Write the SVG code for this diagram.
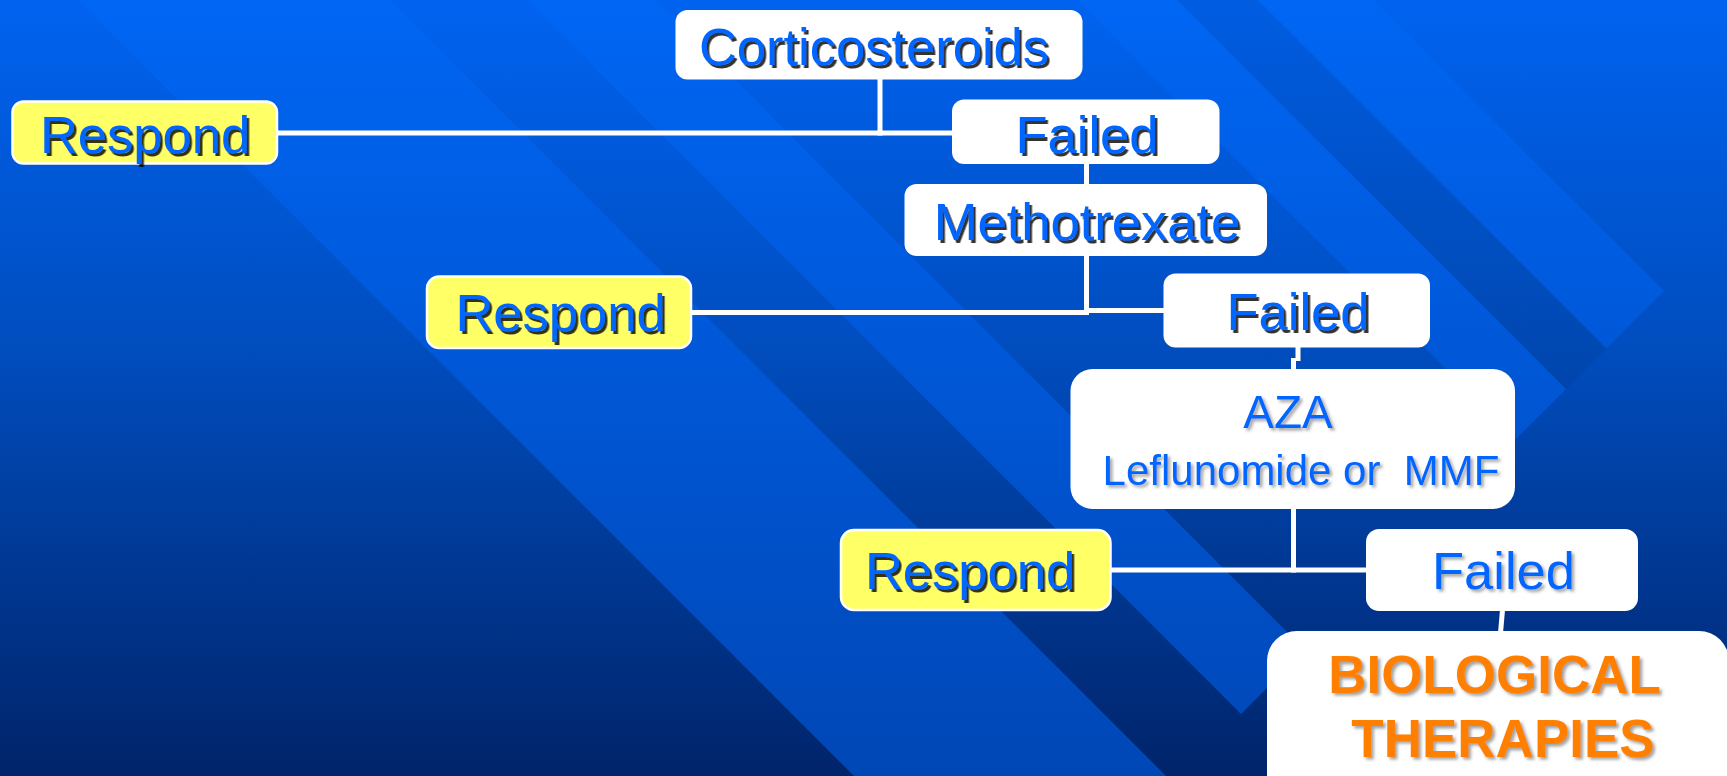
<svg xmlns="http://www.w3.org/2000/svg" width="1727" height="776" viewBox="0 0 1727 776">
  <defs>
    <linearGradient id="bgGrad" gradientUnits="userSpaceOnUse" x1="0" y1="0" x2="0" y2="776">
      <stop offset="0" stop-color="#0063F0"/>
      <stop offset="0.45" stop-color="#004DBE"/>
      <stop offset="1" stop-color="#00246A"/>
    </linearGradient>
    <linearGradient id="bandGrad" gradientUnits="userSpaceOnUse" x1="0" y1="0" x2="0" y2="776">
      <stop offset="0" stop-color="#0066F4"/>
      <stop offset="0.45" stop-color="#0058D8"/>
      <stop offset="1" stop-color="#0047B6"/>
    </linearGradient>
    <filter id="shadowDark" x="-10%" y="-20%" width="130%" height="150%">
      <feDropShadow dx="2.5" dy="3" stdDeviation="0.4" flood-color="#000" flood-opacity="0.8"/>
    </filter>
    <filter id="shadowSoft" x="-10%" y="-20%" width="130%" height="150%">
      <feDropShadow dx="2.5" dy="2.5" stdDeviation="1.5" flood-color="#555" flood-opacity="0.55"/>
    </filter>
    <style>
      .band { fill: url(#bandGrad); }
      .dark { fill: #000; fill-opacity: 0.06; }
      .box { fill: #FFFFFF; }
      .yes { fill: #FFFF66; stroke: #FFFFFF; stroke-width: 2.5; }
      .lbl { font-family: "Liberation Sans", Arial, sans-serif; font-size: 52.5px; fill: #0066FF; text-anchor: middle; }
      .hard { filter: url(#shadowDark); }
      .soft { filter: url(#shadowSoft); }
      .bio { font-family: "Liberation Sans", Arial, sans-serif; font-size: 53px; font-weight: bold; fill: #FF8000; text-anchor: middle; filter: url(#shadowSoft); }
      .wire { stroke: #FFFFFF; stroke-width: 5; fill: none; }
    </style>
  </defs>

  <!-- background with diagonal ribbons -->
  <rect x="0" y="0" width="1727" height="776" fill="url(#bgGrad)"/>
  <g id="ribbons">
    <polygon class="band" points="78,0 390,0 1166,776 854,776"/>
    <polygon class="band" points="527,0 655,0 1305,650 1241,714"/>
    <polygon class="band" points="1077,0 1177,0 1566,389 1516,439"/>
    <polygon class="band" points="1258,0 1373,0 1664,291 1606.5,348.5"/>
    <polygon class="dark" points="1177,0 1258,0 1606.5,348.5 1566,389"/>
  </g>

  <!-- connectors -->
  <g id="connectors">
    <line class="wire" x1="880" y1="79" x2="880" y2="135.5"/>
    <line class="wire" x1="278" y1="133" x2="953" y2="133"/>
    <line class="wire" x1="1086.5" y1="164" x2="1086.5" y2="185"/>
    <line class="wire" x1="1086.5" y1="255" x2="1086.5" y2="315"/>
    <line class="wire" x1="691" y1="312.5" x2="1089" y2="312.5"/>
    <line class="wire" x1="1084" y1="310.5" x2="1165" y2="310.5"/>
    <line class="wire" x1="1298" y1="347" x2="1298" y2="361"/>
    <line class="wire" x1="1293.5" y1="358" x2="1293.5" y2="370"/>
    <line class="wire" x1="1293.5" y1="508" x2="1293.5" y2="572.5"/>
    <line class="wire" x1="1110" y1="570" x2="1367" y2="570"/>
    <line class="wire" x1="1502.5" y1="610" x2="1500.5" y2="633"/>
  </g>

  <g id="corticosteroids">
    <rect class="box" x="675.5" y="10" width="407" height="69.5" rx="12"/>
    <text class="lbl hard" x="874" y="65">Corticosteroids</text>
  </g>

  <g id="respond-1">
    <rect class="yes" x="12.5" y="101.5" width="264.5" height="62" rx="11"/>
    <text class="lbl hard" x="145" y="153">Respond</text>
  </g>

  <g id="failed-1">
    <rect class="box" x="952" y="99.5" width="267.5" height="64.5" rx="12"/>
    <text class="lbl hard" x="1087" y="153">Failed</text>
  </g>

  <g id="methotrexate">
    <rect class="box" x="904.5" y="184" width="362.5" height="72" rx="12"/>
    <text class="lbl hard" x="1087" y="240">Methotrexate</text>
  </g>

  <g id="respond-2">
    <rect class="yes" x="427" y="276.5" width="264" height="71.5" rx="12"/>
    <text class="lbl hard" x="560.5" y="331">Respond</text>
  </g>

  <g id="failed-2">
    <rect class="box" x="1163.5" y="273.5" width="266.5" height="74" rx="12"/>
    <text class="lbl hard" x="1298" y="330">Failed</text>
  </g>

  <g id="aza">
    <rect class="box" x="1070.5" y="369" width="444.5" height="140" rx="22"/>
    <text class="lbl soft" x="1288" y="428" style="font-size:46px">AZA</text>
    <text class="lbl soft" x="1301" y="485" style="font-size:42px; white-space:pre">Leflunomide or  MMF</text>
  </g>

  <g id="respond-3">
    <rect class="yes" x="841" y="530" width="269.5" height="80" rx="13"/>
    <text class="lbl hard" x="970" y="589">Respond</text>
  </g>

  <g id="failed-3">
    <rect class="box" x="1366" y="529" width="272" height="82" rx="13"/>
    <text class="lbl soft" x="1503.5" y="589">Failed</text>
  </g>

  <g id="biological-therapies">
    <rect class="box" x="1267" y="631" width="462" height="200" rx="30"/>
    <text class="bio" x="1494.5" y="693">BIOLOGICAL</text>
    <text class="bio" x="1503" y="757">THERAPIES</text>
  </g>
</svg>
